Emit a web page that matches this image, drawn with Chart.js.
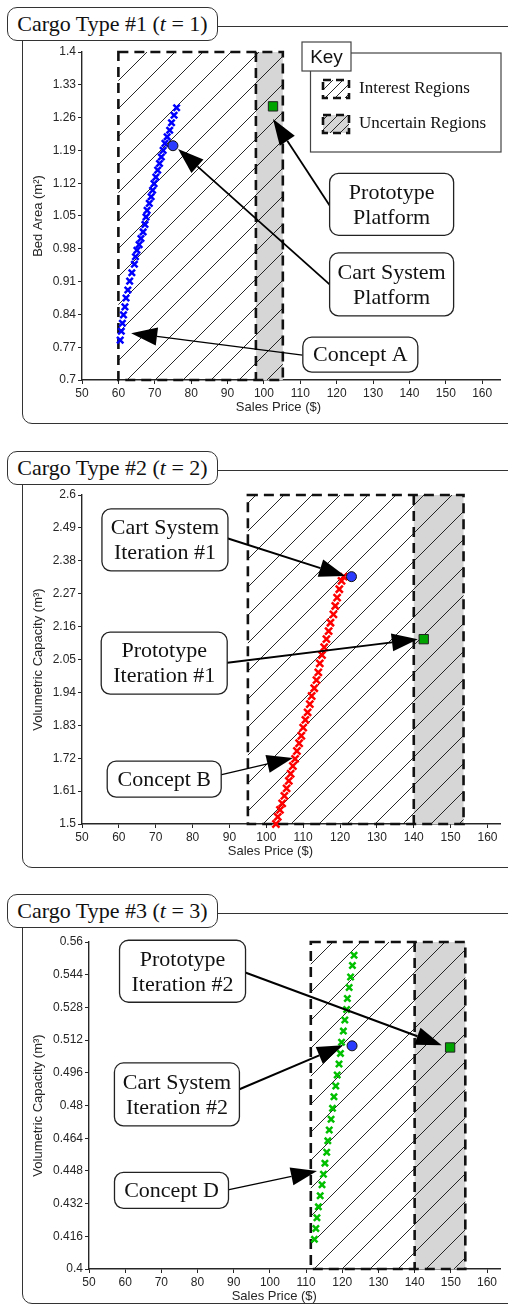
<!DOCTYPE html>
<html>
<head>
<meta charset="utf-8">
<script src="https://cdn.jsdelivr.net/npm/chart.js@4.4.1/dist/chart.umd.min.js"></script>
<style>
  html, body { margin: 0; padding: 0; background: #fff; }
  body { position: relative; width: 508px; height: 1305px; overflow: hidden; }
  .frame { position: absolute; left: 22px; width: 540px; border: 1.3px solid #333; border-radius: 10px; }
  .title { position: absolute; left: 7px; width: 209px; height: 32px; border: 1.3px solid #333; border-radius: 10px;
           background: #fff; font: 22px "Liberation Serif", serif; line-height: 32px; text-align: center; color: #111; z-index: 2; }
  canvas { position: absolute; left: 0; z-index: 1; }
</style>
</head>
<body>
<div class="frame" style="top:26px;height:396px"></div>
<div class="title" style="top:7px">Cargo Type #1 (<i>t</i> = 1)</div>
<canvas id="c1" width="508" height="430" style="top:0"></canvas>

<div class="frame" style="top:470px;height:396px"></div>
<div class="title" style="top:451px">Cargo Type #2 (<i>t</i> = 2)</div>
<canvas id="c2" width="508" height="430" style="top:440px"></canvas>

<div class="frame" style="top:913px;height:389px"></div>
<div class="title" style="top:894px">Cargo Type #3 (<i>t</i> = 3)</div>
<canvas id="c3" width="508" height="425" style="top:880px"></canvas>

<script>
// ---- data ----
const xTicks = [50, 60, 70, 80, 90, 100, 110, 120, 130, 140, 150, 160];
const areaTicks = [0.7, 0.77, 0.84, 0.91, 0.98, 1.05, 1.12, 1.19, 1.26, 1.33, 1.4];
const volTicksB = [1.5, 1.61, 1.72, 1.83, 1.94, 2.05, 2.16, 2.27, 2.38, 2.49, 2.6];
const volTicksD = [0.4, 0.416, 0.432, 0.448, 0.464, 0.48, 0.496, 0.512, 0.528, 0.544, 0.56];

// Concept A (cargo type 1)
const priceA = [60.5, 60.8, 61.1, 61.4, 61.8, 62.1, 62.6, 63.1, 63.7, 64.4, 64.7, 65.1, 65.7, 66.2, 66.8, 67.3, 67.6,
                67.9, 68.5, 69.0, 69.4, 69.8, 70.3, 70.8, 71.3, 71.8, 72.3, 72.8, 73.4, 74.1, 74.6, 75.3, 76.0];
const areaA = [0.785, 0.804, 0.821, 0.839, 0.856, 0.875, 0.892, 0.911, 0.929, 0.947, 0.963, 0.977, 0.989, 1.002, 1.016, 1.032, 1.048,
               1.062, 1.077, 1.091, 1.105, 1.119, 1.133, 1.148, 1.162, 1.176, 1.190, 1.205, 1.219, 1.233, 1.249, 1.265, 1.281];
const cartA = [75.0, 1.200];
const protoA = [102.5, 1.284];
const regionsA = [60, 97.8, 105.2]; // interest start, uncertain start, uncertain end

// Concept B (cargo type 2)
const priceB = [102.6, 103.1, 103.7, 104.3, 104.9, 105.5, 106.1, 106.6, 107.2, 107.8, 108.3, 108.9, 109.5, 110.0, 110.6, 111.2, 111.8,
                112.3, 113.0, 113.6, 114.1, 114.5, 115.1, 115.7, 116.3, 116.9, 117.4, 118.2, 118.7, 119.2, 119.8, 120.4, 121.0];
const volB = [1.500, 1.524, 1.547, 1.569, 1.594, 1.619, 1.644, 1.668, 1.694, 1.718, 1.744, 1.770, 1.795, 1.822, 1.848, 1.873, 1.901,
              1.928, 1.954, 1.981, 2.007, 2.037, 2.065, 2.091, 2.118, 2.145, 2.173, 2.201, 2.229, 2.257, 2.285, 2.313, 2.327];
const cartB = [123.1, 2.327];
const protoB = [142.7, 2.118];
const regionsB = [95, 140, 153.5];

// Concept D (cargo type 3)
const priceD = [112.3, 112.7, 113.0, 113.4, 113.9, 114.4, 114.8, 115.2, 115.7, 116.0, 116.4, 116.9, 117.3, 117.7,
                118.2, 118.6, 119.1, 119.5, 119.8, 120.3, 120.7, 121.2, 121.4, 121.9, 122.3, 122.8, 123.25];
const volD = [0.4145, 0.4198, 0.4251, 0.4304, 0.4358, 0.4412, 0.4464, 0.4518, 0.4571, 0.4627, 0.4680, 0.4733, 0.4786, 0.4843,
              0.4895, 0.4949, 0.5003, 0.5055, 0.5109, 0.5164, 0.5218, 0.5270, 0.5324, 0.5377, 0.5429, 0.5485, 0.5535];
const cartD = [122.7, 0.5092];
const protoD = [149.8, 0.5084];
const regionsD = [111.3, 140, 154];

// ---- drawing helpers ----
const INK = '#262626';
const GRAY = '#d6d6d6';
Chart.defaults.font.family = '"Liberation Sans", Arial, sans-serif';

function roundBox(ctx, l, t, w, h, r) {
    ctx.beginPath();
    ctx.moveTo(l + r, t);
    ctx.arcTo(l + w, t, l + w, t + h, r);
    ctx.arcTo(l + w, t + h, l, t + h, r);
    ctx.arcTo(l, t + h, l, t, r);
    ctx.arcTo(l, t, l + w, t, r);
    ctx.closePath();
}

function hatch(ctx, l, t, r, b, step) {
    ctx.save();
    ctx.beginPath();
    ctx.rect(l, t, r - l, b - t);
    ctx.clip();
    ctx.strokeStyle = '#111';
    ctx.lineWidth = 0.9;
    ctx.beginPath();
    for (let c = Math.floor((l + t) / step) * step + 3; c < r + b + step; c += step) {
        ctx.moveTo(c - b, b);
        ctx.lineTo(c - t, t);
    }
    ctx.stroke();
    ctx.restore();
}

function swatch(ctx, l, t, w, h, gray) {
    if (gray) { ctx.fillStyle = GRAY; ctx.fillRect(l, t, w, h); }
    hatch(ctx, l, t, l + w, t + h, 10);
    ctx.save();
    ctx.strokeStyle = '#111';
    ctx.lineWidth = 2.6;
    ctx.setLineDash([8, 5]);
    ctx.strokeRect(l, t, w, h);
    ctx.restore();
}

function arrow(ctx, x0, y0, x1, y1, lw) {
    const a = Math.atan2(y1 - y0, x1 - x0), len = 26, hw = 9;
    const bx = x1 - len * Math.cos(a), by = y1 - len * Math.sin(a);
    ctx.lineWidth = lw;
    ctx.beginPath();
    ctx.moveTo(x0, y0);
    ctx.lineTo(bx, by);
    ctx.stroke();
    ctx.beginPath();
    ctx.moveTo(x1, y1);
    ctx.lineTo(bx - hw * Math.sin(a), by + hw * Math.cos(a));
    ctx.lineTo(bx + hw * Math.sin(a), by - hw * Math.cos(a));
    ctx.closePath();
    ctx.fill();
}

function drawKey(ctx) {
    ctx.save();
    ctx.strokeStyle = '#444';
    ctx.lineWidth = 1.2;
    ctx.fillStyle = '#fff';
    ctx.fillRect(310.5, 53, 190.5, 99);
    ctx.strokeRect(310.5, 53, 190.5, 99);
    ctx.fillRect(302, 42, 49, 29);
    ctx.strokeRect(302, 42, 49, 29);
    ctx.fillStyle = '#111';
    ctx.font = '19px "Liberation Sans"';
    ctx.textAlign = 'center';
    ctx.textBaseline = 'middle';
    ctx.fillText('Key', 326.5, 57.5);
    swatch(ctx, 323, 80, 26, 18, false);
    swatch(ctx, 323, 115, 26, 18, true);
    ctx.fillStyle = '#111';
    ctx.font = '17px "Liberation Serif"';
    ctx.textAlign = 'left';
    ctx.fillText('Interest Regions', 359, 89);
    ctx.fillText('Uncertain Regions', 359, 124);
    ctx.restore();
}

const cargoPlugin = {
    id: 'cargo',
    beforeDatasetsDraw(chart, args, o) {
        const { ctx, scales: { x, y } } = chart;
        const [x0, x1, x2] = o.regions.map(v => x.getPixelForValue(v));
        const t = y.getPixelForValue(y.max), b = y.getPixelForValue(y.min);
        ctx.save();
        ctx.fillStyle = GRAY;
        ctx.fillRect(x1, t, x2 - x1, b - t);
        hatch(ctx, x0, t, x2, b, 28);
        ctx.strokeStyle = '#111';
        ctx.lineWidth = 2.6;
        ctx.setLineDash([10, 6]);
        ctx.strokeRect(x0, t, x2 - x0, b - t);
        ctx.beginPath();
        ctx.moveTo(x1, t);
        ctx.lineTo(x1, b);
        ctx.stroke();
        ctx.restore();
    },
    afterDatasetsDraw(chart, args, o) {
        const { ctx, scales: { x, y } } = chart;
        const px = p => [x.getPixelForValue(p[0]), y.getPixelForValue(p[1])];
        ctx.save();
        ctx.strokeStyle = '#000';
        ctx.fillStyle = '#000';
        o.notes.forEach(n => {
            const [x0, y0] = px(n.tail), [x1, y1] = px(n.tip);
            arrow(ctx, x0, y0, x1, y1, n.lw);
        });
        ctx.font = '22px "Liberation Serif"';
        ctx.textAlign = 'center';
        ctx.textBaseline = 'middle';
        o.notes.forEach(n => {
            const [cx, cy] = px(n.at);
            roundBox(ctx, cx - n.w / 2, cy - n.h / 2, n.w, n.h, 9);
            ctx.fillStyle = '#fff';
            ctx.fill();
            ctx.lineWidth = 1.3;
            ctx.strokeStyle = '#222';
            ctx.stroke();
            ctx.fillStyle = '#111';
            n.text.forEach((s, i) => ctx.fillText(s, cx, cy + 1 + (i - (n.text.length - 1) / 2) * 25));
        });
        ctx.restore();
    },
    afterDraw(chart, args, o) {
        const { ctx, chartArea, scales: { x } } = chart;
        ctx.save();
        ctx.fillStyle = INK;
        ctx.font = '13px "Liberation Sans"';
        ctx.textAlign = 'center';
        ctx.textBaseline = 'middle';
        ctx.fillText('Sales Price ($)', x.getPixelForValue(o.xTitleAt), chartArea.bottom + 27);
        ctx.restore();
        if (o.key) drawKey(ctx);
    }
};

function buildChart(id, o) {
    const axisTick = { color: INK, font: { size: 12 }, padding: 2, autoSkip: false, maxRotation: 0,
                       callback: v => String(+v.toFixed(3)) };
    const grid = { drawOnChartArea: false, drawTicks: true, tickLength: 4, color: INK, lineWidth: 1 };
    return new Chart(document.getElementById(id), {
        type: 'scatter',
        data: {
            datasets: [
                { data: [{ x: o.cart[0], y: o.cart[1] }], pointStyle: 'circle', pointRadius: 5,
                  backgroundColor: '#2b3cff', borderColor: '#111', borderWidth: 1, clip: false },
                { data: [{ x: o.proto[0], y: o.proto[1] }], pointStyle: 'rect', pointRadius: 6.6,
                  backgroundColor: '#00a400', borderColor: '#222', borderWidth: 1, clip: false },
                { data: o.price.map((p, i) => ({ x: p, y: o.val[i] })), pointStyle: 'crossRot', pointRadius: o.size,
                  borderColor: o.color, backgroundColor: o.color, borderWidth: 2.5, clip: false }
            ]
        },
        options: {
            responsive: false,
            animation: false,
            layout: { padding: o.pad },
            plugins: {
                legend: { display: false },
                tooltip: { enabled: false },
                cargo: { regions: o.regions, notes: o.notes, xTitleAt: o.xTitleAt, key: o.key }
            },
            scales: {
                x: {
                    type: 'linear', min: 50, max: o.xMax,
                    afterBuildTicks: s => { s.ticks = xTicks.map(v => ({ value: v })); },
                    afterFit: s => { s.height = 34; },
                    ticks: axisTick, grid: grid,
                    border: { color: INK, width: 1.4 }
                },
                y: {
                    type: 'linear', min: o.yTicks[0], max: o.yTicks[o.yTicks.length - 1],
                    afterBuildTicks: s => { s.ticks = o.yTicks.map(v => ({ value: v })); },
                    afterFit: s => { s.width = o.yWidth; },
                    ticks: axisTick, grid: grid,
                    border: { color: INK, width: 1.4 },
                    title: { display: true, text: o.yTitle, color: INK, font: { size: 13 }, padding: 0 }
                }
            }
        },
        plugins: [cargoPlugin]
    });
}

buildChart('c1', {
    price: priceA, val: areaA, color: '#0000ff', size: 4.5, cart: cartA, proto: protoA,
    regions: regionsA, yTicks: areaTicks, yTitle: 'Bed Area (m²)', xMax: 165, yWidth: 51,
    pad: { left: 31, top: 52, right: 3, bottom: 16 }, xTitleAt: 104, key: true,
    notes: [
        { text: ['Prototype', 'Platform'], at: [135.1, 1.075], w: 124, h: 62, tail: [118.2, 1.071], tip: [102.5, 1.257], lw: 1.8 },
        { text: ['Cart System', 'Platform'], at: [135.1, 0.904], w: 124, h: 63, tail: [118.2, 0.903], tip: [76.4, 1.193], lw: 1.8 },
        { text: ['Concept A'], at: [126.5, 0.754], w: 115, h: 35, tail: [110.6, 0.753], tip: [63.5, 0.800], lw: 1.2 }
    ]
});

buildChart('c2', {
    price: priceB, val: volB, color: '#ff0000', size: 5, cart: cartB, proto: protoB,
    regions: regionsB, yTicks: volTicksB, yTitle: 'Volumetric Capacity (m³)', xMax: 163.5, yWidth: 51,
    pad: { left: 31, top: 55, right: 3, bottom: 12 }, xTitleAt: 101.1, key: false,
    notes: [
        { text: ['Cart System', 'Iteration #1'], at: [72.5, 2.450], w: 126, h: 62, tail: [89.2, 2.456], tip: [121.4, 2.329], lw: 2 },
        { text: ['Prototype', 'Iteration #1'], at: [72.3, 2.038], w: 126, h: 62, tail: [88.9, 2.038], tip: [141.1, 2.118], lw: 2 },
        { text: ['Concept B'], at: [72.3, 1.650], w: 114, h: 36, tail: [87.6, 1.664], tip: [107.2, 1.721], lw: 1.3 }
    ]
});

buildChart('c3', {
    price: priceD, val: volD, color: '#00c000', size: 4.4, cart: cartD, proto: protoD,
    regions: regionsD, yTicks: volTicksD, yTitle: 'Volumetric Capacity (m³)', xMax: 163.7, yWidth: 58,
    pad: { left: 31, top: 62, right: 2, bottom: 2 }, xTitleAt: 101.2, key: false,
    notes: [
        { text: ['Prototype', 'Iteration #2'], at: [75.85, 0.5457], w: 126, h: 62, tail: [93.0, 0.5452], tip: [147.5, 0.5095], lw: 2 },
        { text: ['Cart System', 'Iteration #2'], at: [74.3, 0.4854], w: 125, h: 63, tail: [91.1, 0.4876], tip: [120.25, 0.5095], lw: 2 },
        { text: ['Concept D'], at: [72.8, 0.4385], w: 114, h: 36, tail: [88.4, 0.4387], tip: [113.0, 0.4480], lw: 1.3 }
    ]
});
</script>
</body>
</html>
